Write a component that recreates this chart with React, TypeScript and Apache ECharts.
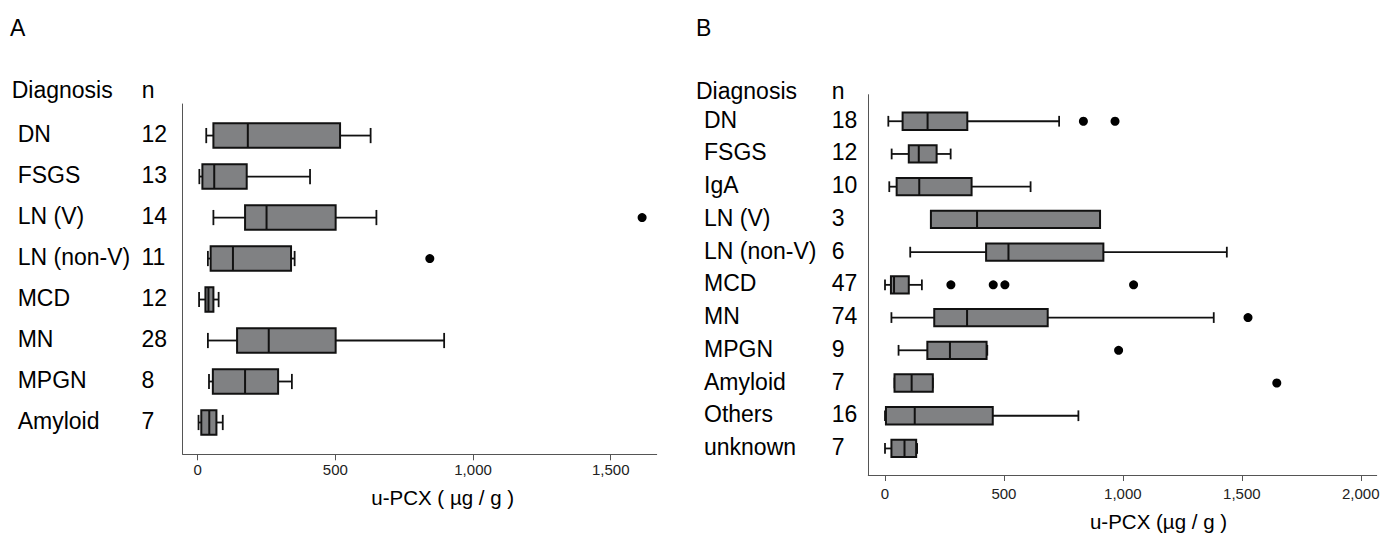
import React, { useEffect, useRef } from "react";
import * as echarts from "echarts";

// ---------- Data (Panel A) ----------
const categoriesA = ["DN", "FSGS", "LN (V)", "LN (non-V)", "MCD", "MN", "MPGN", "Amyloid"];
const countsA = [12, 13, 14, 11, 12, 28, 8, 7];
// [whisker low, Q1, median, Q3, whisker high]
const boxesA = [
  [31, 57, 182, 517, 628],
  [6, 17, 60, 178, 408],
  [57, 172, 250, 501, 649],
  [37, 47, 128, 339, 352],
  [5, 28, 39, 57, 76],
  [37, 143, 258, 501, 895],
  [41, 55, 172, 292, 342],
  [3, 13, 42, 68, 91],
];
const outliersA = [[], [], [1614], [843], [], [], [], []];

// ---------- Data (Panel B) ----------
const categoriesB = ["DN", "FSGS", "IgA", "LN (V)", "LN (non-V)", "MCD", "MN", "MPGN", "Amyloid", "Others", "unknown"];
const countsB = [18, 12, 10, 3, 6, 47, 74, 9, 7, 16, 7];
const boxesB = [
  [14, 74, 179, 346, 732],
  [28, 100, 142, 217, 276],
  [18, 49, 144, 364, 612],
  [193, 193, 387, 904, 904],
  [106, 425, 519, 918, 1437],
  [0, 25, 38, 100, 155],
  [27, 207, 345, 684, 1382],
  [57, 178, 273, 427, 430],
  [40, 40, 112, 201, 201],
  [0, 4, 125, 453, 813],
  [0, 27, 82, 131, 135],
];
const outliersB = [[834, 967], [], [], [], [], [277, 455, 504, 1045], [1526], [982], [1647], [], []];

const ticksA = [0, 500, 1000, 1500];
const ticksB = [0, 500, 1000, 1500, 2000];

const FONT = "'Liberation Sans', Arial, Helvetica, sans-serif";

function fmt(v: number): string {
  return String(v).replace(/\B(?=(\d{3})+(?!\d))/g, ",");
}

function makeRenderItem(boxH: number) {
  return (params: any, api: any) => {
    const row = api.value(0);
    const lo = api.coord([api.value(1), row]);
    const q1 = api.coord([api.value(2), row]);
    const md = api.coord([api.value(3), row]);
    const q3 = api.coord([api.value(4), row]);
    const hi = api.coord([api.value(5), row]);
    const y = lo[1];
    const c = (boxH * 0.62) / 2;
    const ws = { stroke: "#111", lineWidth: 1.8 };
    return {
      type: "group",
      children: [
        { type: "line", shape: { x1: lo[0], y1: y, x2: q1[0], y2: y }, style: ws },
        { type: "line", shape: { x1: q3[0], y1: y, x2: hi[0], y2: y }, style: ws },
        { type: "line", shape: { x1: lo[0], y1: y - c, x2: lo[0], y2: y + c }, style: ws },
        { type: "line", shape: { x1: hi[0], y1: y - c, x2: hi[0], y2: y + c }, style: ws },
        {
          type: "rect",
          shape: { x: q1[0], y: y - boxH / 2, width: q3[0] - q1[0], height: boxH },
          style: { fill: "#808183", stroke: "#111", lineWidth: 2 },
        },
        { type: "line", shape: { x1: md[0], y1: y - boxH / 2, x2: md[0], y2: y + boxH / 2 }, style: { stroke: "#111", lineWidth: 2 } },
      ],
    };
  };
}

function yAxisFor(idx: number, cats: string[], counts: number[], min: number, max: number, margin: number, nameW: number) {
  return {
    type: "value",
    gridIndex: idx,
    inverse: true,
    min,
    max,
    axisLine: { show: true, onZero: false, lineStyle: { color: "#555", width: 1 } },
    axisTick: { show: false },
    splitLine: { show: false },
    axisLabel: {
      customValues: cats.map((_, i) => i),
      align: "left",
      margin,
      padding: [0, 0, 3, 0],
      formatter: (v: number) => `{a|${cats[Math.round(v)]}}{b|${counts[Math.round(v)]}}`,
      rich: {
        a: { width: nameW, fontSize: 23, fontFamily: FONT, color: "#000" },
        b: { fontSize: 23, fontFamily: FONT, color: "#000" },
      },
    },
  };
}

function xAxisFor(idx: number, min: number, max: number, ticks: number[], name: string, nameGap: number, shift: number, labelMargin: number) {
  return {
    type: "value",
    gridIndex: idx,
    min,
    max,
    axisLine: { show: true, onZero: false, lineStyle: { color: "#555", width: 1 } },
    axisTick: { show: true, customValues: ticks, length: 6, lineStyle: { color: "#555", width: 1 } },
    splitLine: { show: false },
    axisLabel: {
      customValues: ticks,
      formatter: (v: number) => fmt(v),
      fontSize: 15,
      fontFamily: FONT,
      color: "#222",
      margin: labelMargin,
    },
    name,
    nameLocation: "middle",
    nameGap,
    nameTextStyle: { fontSize: 20.5, fontFamily: FONT, color: "#000", padding: [0, 0, 0, shift * 2] },
  };
}

export default function App() {
  const ref = useRef<HTMLDivElement>(null);

  useEffect(() => {
    if (!ref.current) return;
    const chart = echarts.init(ref.current, null, { renderer: "svg" });

    const boxDataA = boxesA.map((b, i) => [i, ...b]);
    const boxDataB = boxesB.map((b, i) => [i, ...b]);
    const outA: number[][] = [];
    outliersA.forEach((vals, i) => vals.forEach((v) => outA.push([v, i])));
    const outB: number[][] = [];
    outliersB.forEach((vals, i) => vals.forEach((v) => outB.push([v, i])));

    const headerText = (x: number, y: number, text: string) => ({
      type: "text",
      x,
      y,
      style: { text, fontSize: 23, fontFamily: FONT, fill: "#000", align: "left", verticalAlign: "middle" },
    });

    chart.setOption({
      animation: false,
      backgroundColor: "#fff",
      grid: [
        { left: 182.7, top: 104, width: 474, height: 350.3 },
        { left: 868.3, top: 94.7, width: 508.4, height: 387 },
      ],
      xAxis: [
        xAxisFor(0, -54.5, 1667, ticksA, "u-PCX ( µg / g )", 33, 23, 8),
        xAxisFor(1, -70.2, 2067, ticksB, "u-PCX (µg / g )", 36, 36, 11),
      ],
      yAxis: [
        yAxisFor(0, categoriesA, countsA, -0.77, 7.776, 165, 123.7),
        yAxisFor(1, categoriesB, countsB, -0.811, 10.811, 164.3, 127.7),
      ],
      graphic: [
        { type: "text", x: 10, y: 27.5, style: { text: "A", fontSize: 23, fontFamily: FONT, fill: "#000", align: "left", verticalAlign: "middle" } },
        { type: "text", x: 696, y: 27.5, style: { text: "B", fontSize: 23, fontFamily: FONT, fill: "#000", align: "left", verticalAlign: "middle" } },
        headerText(11.7, 89.7, "Diagnosis"),
        headerText(141.7, 89.7, "n"),
        headerText(696, 91, "Diagnosis"),
        headerText(831.7, 91, "n"),
      ],
      series: [
        {
          type: "custom",
          xAxisIndex: 0,
          yAxisIndex: 0,
          renderItem: makeRenderItem(24.5),
          encode: { x: [1, 2, 3, 4, 5], y: 0 },
          data: boxDataA,
          silent: true,
        },
        {
          type: "scatter",
          xAxisIndex: 0,
          yAxisIndex: 0,
          symbolSize: 9,
          itemStyle: { color: "#000", opacity: 1 },
          data: outA,
          silent: true,
        },
        {
          type: "custom",
          xAxisIndex: 1,
          yAxisIndex: 1,
          renderItem: makeRenderItem(17.3),
          encode: { x: [1, 2, 3, 4, 5], y: 0 },
          data: boxDataB,
          silent: true,
        },
        {
          type: "scatter",
          xAxisIndex: 1,
          yAxisIndex: 1,
          symbolSize: 9,
          itemStyle: { color: "#000", opacity: 1 },
          data: outB,
          silent: true,
        },
      ],
    });

    return () => chart.dispose();
  }, []);

  return (
    <div
      ref={ref}
      style={{ position: "fixed", left: 0, top: 0, width: 1397, height: 537, background: "#fff" }}
    />
  );
}
